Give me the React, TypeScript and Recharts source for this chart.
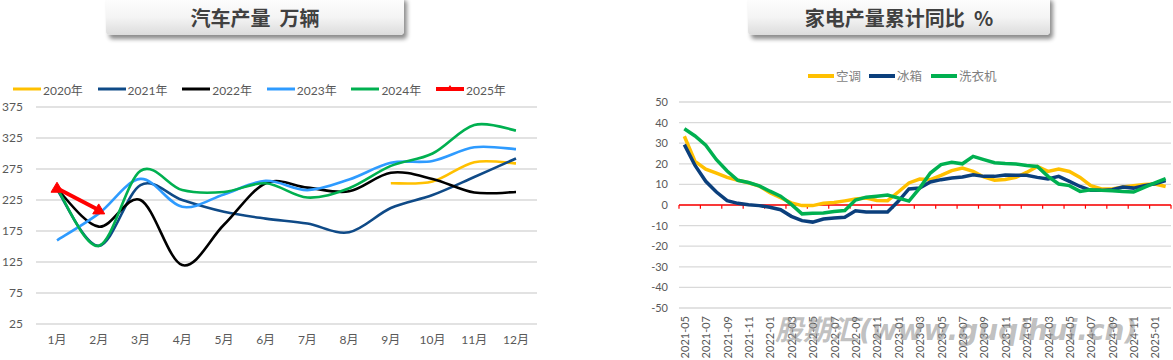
import React from 'react';
import { LineChart, Line, XAxis, YAxis, CartesianGrid, ReferenceLine } from 'recharts';

// ---------- Left chart: 汽车产量 万辆 ----------
const carMonths = ['1月', '2月', '3月', '4月', '5月', '6月', '7月', '8月', '9月', '10月', '11月', '12月'];
const car2020 = [null, null, null, null, null, null, null, null, 252, 255, 286, 284];
const car2021 = [242, 151, 249, 225, 206, 195, 187, 173, 212, 233, 262, 292];
const car2022 = [243, 182, 225, 120, 185, 252, 245, 239, 269, 259, 237, 238];
const car2023 = [160, 203, 259, 214, 234, 256, 241, 258, 285, 288, 310, 307];
const car2024 = [244, 151, 272, 241, 238, 252, 229, 244, 280, 300, 346, 337];
const car2025 = [244, 209, null, null, null, null, null, null, null, null, null, null];
const carTicks = [25, 75, 125, 175, 225, 275, 325, 375];

const carSeries = [
  { key: 'y2020', name: '2020年', color: '#FFC000', values: car2020 },
  { key: 'y2021', name: '2021年', color: '#0F4A87', values: car2021 },
  { key: 'y2022', name: '2022年', color: '#000000', values: car2022 },
  { key: 'y2023', name: '2023年', color: '#2E9BFF', values: car2023 },
  { key: 'y2024', name: '2024年', color: '#00B050', values: car2024 },
  { key: 'y2025', name: '2025年', color: '#FF0000', values: car2025 },
];

const carData = carMonths.map((m, i) => {
  const row: any = { month: m };
  carSeries.forEach((s) => { row[s.key] = s.values[i]; });
  return row;
});

// ---------- Right chart: 家电产量累计同比 % ----------
const appMonths = [
  '2021-05', '2021-06', '2021-07', '2021-08', '2021-09', '2021-10', '2021-11', '2021-12',
  '2022-01', '2022-02', '2022-03', '2022-04', '2022-05', '2022-06', '2022-07', '2022-08',
  '2022-09', '2022-10', '2022-11', '2022-12', '2023-01', '2023-02', '2023-03', '2023-04',
  '2023-05', '2023-06', '2023-07', '2023-08', '2023-09', '2023-10', '2023-11', '2023-12',
  '2024-01', '2024-02', '2024-03', '2024-04', '2024-05', '2024-06', '2024-07', '2024-08',
  '2024-09', '2024-10', '2024-11', '2024-12', '2025-01', '2025-02',
];
const airCon = [
  33.4, 21.2, 17.4, 15.5, 13.4, 12.0, 10.8, 9.2, 6.0, 3.5, 1.0, -0.3, -0.3, 0.8, 1.2, 2.0,
  2.9, 3.4, 2.2, 2.1, 6.3, 10.7, 12.6, 12.3, 14.4, 16.7, 17.9, 16.3, 13.6, 12.0, 12.4, 13.4,
  15.8, 18.7, 16.3, 17.4, 16.3, 13.4, 9.4, 7.8, 7.8, 8.7, 9.4, 10.0, 10.2, 9.0,
];
const fridge = [
  29.3, 19.2, 11.5, 6.3, 2.1, 0.8, 0.1, -0.3, -1.1, -2.3, -5.5, -7.6, -8.3, -6.8, -6.3, -6.0,
  -2.8, -3.4, -3.4, -3.4, 1.8, 7.8, 8.2, 11.2, 12.3, 13.1, 13.6, 14.7, 13.9, 13.9, 14.6, 14.4,
  14.4, 13.4, 12.6, 13.9, 11.5, 9.0, 7.1, 7.1, 7.4, 8.7, 8.2, 9.4, 10.3, 11.8,
];
const washer = [
  37.0, 33.5, 29.0, 22.0, 16.5, 12.0, 10.9, 9.3, 6.7, 4.3, 0.3, -4.3, -4.0, -3.9, -3.2, -2.7,
  2.4, 3.8, 4.3, 4.8, 3.4, 1.9, 8.2, 15.5, 19.6, 20.7, 20.0, 23.6, 22.0, 20.5, 20.1, 19.9,
  19.2, 18.7, 13.9, 10.2, 9.4, 6.6, 7.4, 7.1, 6.9, 6.6, 6.3, 8.6, 10.7, 12.8,
];
const appTicksY = [-50, -40, -30, -20, -10, 0, 10, 20, 30, 40, 50];

const appSeries = [
  { key: 'ac', name: '空调', color: '#FFC000', values: airCon },
  { key: 'fr', name: '冰箱', color: '#0B3F7C', values: fridge },
  { key: 'wm', name: '洗衣机', color: '#00B050', values: washer },
];

const appData = appMonths.map((m, i) => {
  const row: any = { idx: i, month: m };
  appSeries.forEach((s) => { row[s.key] = s.values[i]; });
  return row;
});
const appLabelIdx = appMonths.map((_, i) => i).filter((i) => i % 2 === 0);
const appBoundaries = appMonths.map((_, i) => i).filter((i) => i % 2 === 0).concat([appMonths.length]).map((i) => i - 0.5);

// Excel-like smoothing (Catmull-Rom through the points)
function excelSmooth(context: any) {
  let pts: number[][] = [];
  return {
    areaStart() {},
    areaEnd() {},
    lineStart() { pts = []; },
    point(x: number, y: number) { pts.push([+x, +y]); },
    lineEnd() {
      const n = pts.length;
      if (!n) return;
      context.moveTo(pts[0][0], pts[0][1]);
      if (n === 1) { context.lineTo(pts[0][0], pts[0][1]); return; }
      for (let i = 0; i < n - 1; i++) {
        const p0 = pts[Math.max(i - 1, 0)];
        const p1 = pts[i];
        const p2 = pts[i + 1];
        const p3 = pts[Math.min(i + 2, n - 1)];
        context.bezierCurveTo(
          p1[0] + (p2[0] - p0[0]) / 6, p1[1] + (p2[1] - p0[1]) / 6,
          p2[0] - (p3[0] - p1[0]) / 6, p2[1] - (p3[1] - p1[1]) / 6,
          p2[0], p2[1],
        );
      }
    },
  };
}

const TriangleDot = (props: any) => {
  const { cx, cy, stroke } = props;
  if (cx == null || cy == null || props.value == null) return null;
  return (
    <polygon
      points={`${cx},${cy - 6} ${cx - 6},${cy + 4} ${cx + 6},${cy + 4}`}
      fill={stroke}
      stroke={stroke}
    />
  );
};

const RotTick = (props: any) => {
  const { x, y, payload } = props;
  return (
    <text
      transform={`translate(${x},${y}) rotate(-90)`}
      textAnchor="end"
      dominantBaseline="central"
      fill="#595959"
      fontSize={11}
    >
      {appMonths[payload.value]}
    </text>
  );
};

const FONT = "Lato, 'Noto Sans CJK SC', sans-serif";

const TitleBox = ({ left, width, text }: { left: number; width: number; text: string }) => (
  <div
    style={{
      position: 'absolute',
      left,
      top: -4,
      width,
      height: 39,
      background: 'linear-gradient(to bottom, #ffffff 0%, #f4f4f4 55%, #dcdcdc 100%)',
      borderRadius: 4,
      boxShadow: '3px 4px 4px rgba(0,0,0,0.45)',
      display: 'flex',
      alignItems: 'center',
      justifyContent: 'center',
      paddingTop: 4,
      boxSizing: 'border-box',
      fontFamily: "'Noto Sans CJK SC', sans-serif",
      fontWeight: 700,
      fontSize: 20,
      color: '#404040',
      whiteSpace: 'pre',
    }}
  >
    {text}
  </div>
);

export default function App() {
  return (
    <div
      style={{
        position: 'absolute',
        left: 0,
        top: 0,
        width: 1173,
        height: 360,
        background: '#ffffff',
        overflow: 'hidden',
        fontFamily: FONT,
      }}
    >
      <TitleBox left={106} width={298} text={'汽车产量  万辆'} />
      <TitleBox left={748} width={302} text={'家电产量累计同比  %'} />

      {/* left legend */}
      {carSeries.map((s, i) => (
        <div
          key={s.key}
          style={{
            position: 'absolute',
            left: 13 + i * 84.6,
            top: 81,
            height: 16,
            display: 'flex',
            alignItems: 'center',
            fontSize: 12,
            color: '#595959',
          }}
        >
          <svg width={28} height={12} style={{ display: 'block' }}>
            <line x1={0} y1={6} x2={28} y2={6} stroke={s.color} strokeWidth={s.key === 'y2025' ? 4 : 3} />
            {s.key === 'y2025' ? <polygon points="14,2 10,8 18,8" fill={s.color} /> : null}
          </svg>
          <span style={{ marginLeft: 2 }}>{s.name}</span>
        </div>
      ))}

      {/* right legend */}
      {appSeries.map((s, i) => (
        <div
          key={s.key}
          style={{
            position: 'absolute',
            left: [808, 869, 931][i],
            top: 67,
            height: 17,
            display: 'flex',
            alignItems: 'center',
            fontSize: 12.5,
            color: '#7F7F7F',
          }}
        >
          <svg width={26} height={12} style={{ display: 'block' }}>
            <line x1={0} y1={6} x2={26} y2={6} stroke={s.color} strokeWidth={4} />
          </svg>
          <span style={{ marginLeft: 2 }}>{s.name}</span>
        </div>
      ))}

      {/* left chart */}
      <div style={{ position: 'absolute', left: 0, top: 0 }}>
        <LineChart width={545} height={360} data={carData} margin={{ top: 107, right: 8, bottom: 6, left: 0 }}>
          <CartesianGrid vertical={false} stroke="#D9D9D9" strokeWidth={1.3} />
          <XAxis
            dataKey="month"
            height={30}
            padding={{ left: 21, right: 21 }}
            tickLine={false}
            axisLine={false}
            tickMargin={5}
            interval={0}
            tick={{ fill: '#595959', fontSize: 12 }}
          />
          <YAxis
            width={36}
            domain={[25, 375]}
            ticks={carTicks}
            interval={0}
            tickLine={false}
            axisLine={false}
            tickMargin={7}
            tick={{ fill: '#595959', fontSize: 12 }}
          />
          {carSeries.slice(0, 5).map((s) => (
            <Line
              key={s.key}
              dataKey={s.key}
              name={s.name}
              type={excelSmooth as any}
              stroke={s.color}
              strokeWidth={2.6}
              dot={false}
              activeDot={false}
              isAnimationActive={false}
            />
          ))}
          <Line
            dataKey="y2025"
            name="2025年"
            type="linear"
            stroke="#FF0000"
            strokeWidth={4}
            dot={<TriangleDot />}
            activeDot={false}
            isAnimationActive={false}
          />
        </LineChart>
      </div>

      {/* right chart */}
      <div style={{ position: 'absolute', left: 640, top: 0 }}>
        <LineChart width={533} height={360} data={appData} margin={{ top: 102, right: 2, bottom: 4, left: 0 }}>
          <CartesianGrid vertical={false} stroke="#D9D9D9" strokeWidth={1.3} />
          <XAxis
            dataKey="idx"
            type="number"
            domain={[-0.5, appMonths.length - 0.5]}
            ticks={appLabelIdx}
            interval={0}
            height={48}
            tickLine={false}
            axisLine={false}
            tick={<RotTick />}
          />
          <YAxis
            width={39}
            domain={[-50, 50]}
            ticks={appTicksY}
            interval={0}
            tickLine={false}
            axisLine={false}
            tickMargin={5}
            tick={{ fill: '#595959', fontSize: 11 }}
          />
          <ReferenceLine y={0} stroke="#FF0000" strokeWidth={1.3} ifOverflow="visible" />
          {appBoundaries.map((b) => (
            <ReferenceLine
              key={b}
              segment={[{ x: b, y: 0 }, { x: b, y: -1.8 }]}
              stroke="#FF0000"
              strokeWidth={1.2}
              ifOverflow="visible"
            />
          ))}
          {appSeries.map((s) => (
            <Line
              key={s.key}
              dataKey={s.key}
              name={s.name}
              type="linear"
              stroke={s.color}
              strokeWidth={3.5}
              dot={false}
              activeDot={false}
              isAnimationActive={false}
            />
          ))}
        </LineChart>
      </div>

      {/* watermark */}
      <div
        style={{
          position: 'absolute',
          left: 775,
          top: 308,
          fontSize: 28,
          fontWeight: 700,
          fontStyle: 'italic',
          color: 'rgba(140,140,140,0.55)',
          fontFamily: "'DejaVu Sans', 'Noto Sans CJK SC', sans-serif",
          whiteSpace: 'pre',
          pointerEvents: 'none',
        }}
      >
        股期汇(www.guqihui.cn)
      </div>
    </div>
  );
}
